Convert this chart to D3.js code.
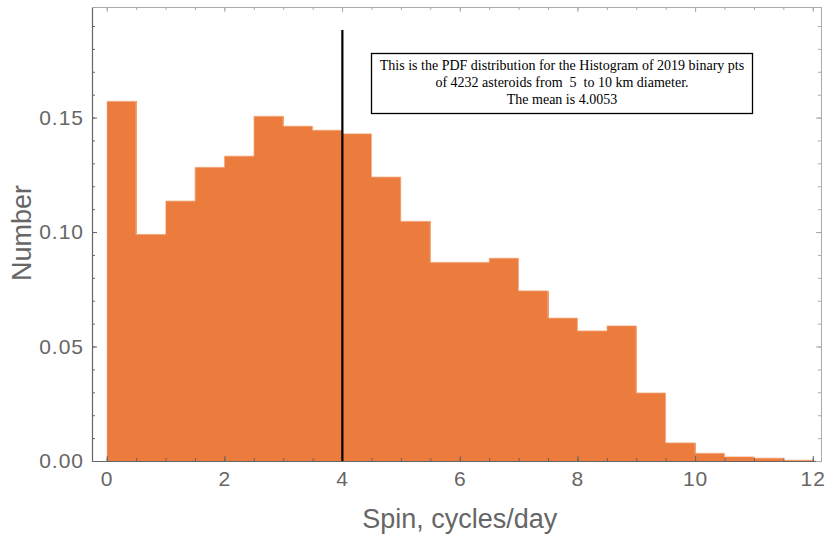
<!DOCTYPE html>
<html>
<head>
<meta charset="utf-8">
<script src="https://cdn.jsdelivr.net/npm/d3@7"></script>
<style>
  body { margin: 0; background: #fff; }
  svg { display: block; }
</style>
</head>
<body>
<script>
// layout
const WIDTH = 825, HEIGHT = 538;
let margin = {top: 7, right: 4, bottom: 77, left: 92},
    width = WIDTH - margin.left - margin.right,
    height = HEIGHT - margin.top - margin.bottom;

// data: histogram bins of width 0.5, PDF values
const binStarts = [0, 0.5, 1, 1.5, 2, 2.5, 3, 3.5, 4, 4.5, 5, 5.5,
                   6, 6.5, 7, 7.5, 8, 8.5, 9, 9.5, 10, 10.5, 11, 11.5];
const pdfValues = [0.1571, 0.0990, 0.1136, 0.1283, 0.1332, 0.1506, 0.1463, 0.1445,
                   0.1430, 0.1241, 0.1047, 0.0868, 0.0868, 0.0886, 0.0744, 0.0625,
                   0.0569, 0.0591, 0.0298, 0.0080, 0.0034, 0.0019, 0.0013, 0.0004];
const binWidth = 0.5;
const meanSpin = 4.0053;
const meanLineTop = 0.1883;
const xTickValues = [0, 2, 4, 6, 8, 10, 12];
const yTickValues = [0, 0.05, 0.10, 0.15];
const noteLines = ["This is the PDF distribution for the Histogram of 2019 binary pts",
                   "of 4232 asteroids from  5  to 10 km diameter.",
                   "The mean is 4.0053"];

const barColor = "#ec7c3e";
const axisGray = "#666666";

let svg = d3.select("body").append("svg")
    .attr("width", WIDTH)
    .attr("height", HEIGHT);

let chart = svg.append("g")
    .attr("transform", "translate(" + margin.left + "," + margin.top + ")");

let xScale = d3.scaleLinear().domain([-0.25, 12.14]).range([0, width]);
let yScale = d3.scaleLinear().domain([0, 0.1983]).range([height, 0]);

// bars (no stroke, crisp edges so adjacent bars merge like the original)
chart.selectAll("rect.bar")
    .data(binStarts)
    .enter().append("rect")
        .attr("class", "bar")
        .attr("x", d => xScale(d))
        .attr("width", d => xScale(d + binWidth) - xScale(d) + 0.6)
        .attr("y", (d, i) => yScale(pdfValues[i]))
        .attr("height", (d, i) => yScale(0) - yScale(pdfValues[i]))
        .attr("fill", barColor)
        .attr("shape-rendering", "crispEdges");

// pale outline along the tops of the bars
let outlinePts = binStarts.map((d, i) => [d, pdfValues[i]]);
outlinePts.push([binStarts[binStarts.length - 1] + binWidth, pdfValues[pdfValues.length - 1]]);
chart.append("path")
    .datum(outlinePts)
    .attr("fill", "none")
    .attr("stroke", "#f7c3a3")
    .attr("stroke-width", 0.8)
    .attr("d", d3.line().x(d => xScale(d[0])).y(d => yScale(d[1])).curve(d3.curveStepAfter));

// dashed pale left edge of the first bar
chart.append("line")
    .attr("x1", xScale(0)).attr("x2", xScale(0))
    .attr("y1", yScale(0)).attr("y2", yScale(pdfValues[0]))
    .attr("stroke", "#fbe0cf").attr("stroke-width", 0.8)
    .attr("stroke-dasharray", "2,1");

// frame axes: minor ticks every 0.5 / 0.01, major ones labelled
const xMinor = d3.range(0, 12.01, 0.5);
const yMinor = d3.range(0, 0.195, 0.01);

function styleAxis(g, lineColor) {
    g.select(".domain").attr("stroke", lineColor);
    g.selectAll(".tick line").attr("stroke", lineColor);
    g.selectAll("text").remove();
}

function styleLabels(g) {
    g.select(".domain").attr("stroke", axisGray).attr("stroke-width", 1.2);
    g.selectAll(".tick line").attr("stroke", axisGray);
    g.selectAll("text").attr("fill", axisGray).attr("font-size", 21)
        .attr("font-family", "Liberation Sans, Arial, sans-serif")
        .attr("letter-spacing", 1);
}

chart.append("g").attr("transform", "translate(0," + height + ")")
    .call(d3.axisBottom(xScale).tickValues(xMinor).tickSizeInner(-3).tickSizeOuter(0))
    .call(g => styleAxis(g, axisGray));
chart.append("g").attr("transform", "translate(0," + height + ")")
    .call(d3.axisBottom(xScale).tickValues(xTickValues).tickSizeInner(-5).tickSizeOuter(0)
        .tickFormat(d3.format("d")).tickPadding(10))
    .call(styleLabels);

chart.append("g")
    .call(d3.axisLeft(yScale).tickValues(yMinor).tickSizeInner(-3).tickSizeOuter(0))
    .call(g => styleAxis(g, axisGray));
chart.append("g")
    .call(d3.axisLeft(yScale).tickValues(yTickValues).tickSizeInner(-5).tickSizeOuter(0)
        .tickFormat(d3.format(".2f")).tickPadding(8))
    .call(styleLabels);

chart.append("g")
    .call(d3.axisTop(xScale).tickValues(xMinor).tickSizeInner(-3).tickSizeOuter(0))
    .call(g => styleAxis(g, "#aaaaaa"));
chart.append("g")
    .call(d3.axisTop(xScale).tickValues(xTickValues).tickSizeInner(-5).tickSizeOuter(0))
    .call(g => styleAxis(g, "#aaaaaa"));
chart.append("g").attr("transform", "translate(" + width + ",0)")
    .call(d3.axisRight(yScale).tickValues(yMinor).tickSizeInner(-3).tickSizeOuter(0))
    .call(g => styleAxis(g, "#aaaaaa"));
chart.append("g").attr("transform", "translate(" + width + ",0)")
    .call(d3.axisRight(yScale).tickValues(yTickValues).tickSizeInner(-5).tickSizeOuter(0))
    .call(g => styleAxis(g, "#aaaaaa"));

// mean line
chart.append("line")
    .attr("x1", xScale(meanSpin)).attr("x2", xScale(meanSpin))
    .attr("y1", yScale(0)).attr("y2", yScale(meanLineTop))
    .attr("stroke", "#000").attr("stroke-width", 2.2);

// annotation box
let note = svg.append("g");
note.append("rect")
    .attr("x", 371.5).attr("y", 53.5)
    .attr("width", 381).attr("height", 60)
    .attr("fill", "#fff").attr("stroke", "#000").attr("stroke-width", 1.3);
note.selectAll("text")
    .data(noteLines)
    .enter().append("text")
        .attr("x", 562)
        .attr("y", (d, i) => 70 + i * 17)
        .attr("text-anchor", "middle")
        .attr("font-family", "Liberation Serif, Times New Roman, serif")
        .attr("font-size", 14)
        .style("white-space", "pre")
        .text(d => d);

// axis titles
svg.append("text")
    .attr("x", margin.left + xScale(6))
    .attr("y", 528)
    .attr("text-anchor", "middle")
    .attr("fill", axisGray)
    .attr("font-family", "Liberation Sans, Arial, sans-serif")
    .attr("font-size", 27)
    .text("Spin, cycles/day");

svg.append("text")
    .attr("transform", "rotate(-90)")
    .attr("x", -233)
    .attr("y", 31)
    .attr("text-anchor", "middle")
    .attr("fill", axisGray)
    .attr("font-family", "Liberation Sans, Arial, sans-serif")
    .attr("font-size", 27)
    .text("Number");
</script>
</body>
</html>
